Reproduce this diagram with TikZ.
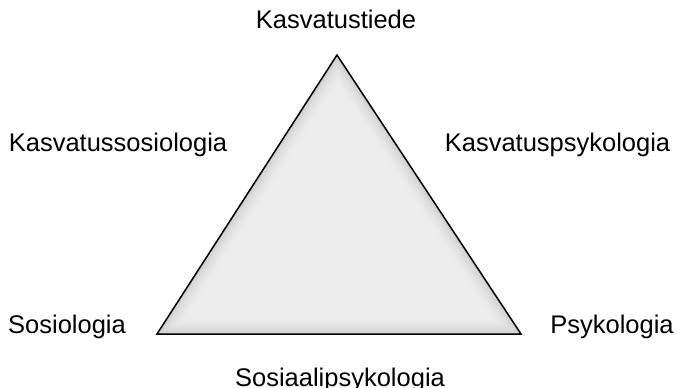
\documentclass[tikz,border=0pt]{standalone}
\usepackage{fontspec}
\setmainfont{Liberation Sans}
\usetikzlibrary{calc}
\begin{document}
\begin{tikzpicture}[x=1pt,y=-1pt,
  lbl/.style={anchor=base,inner sep=0pt,font=\fontsize{25.5}{30}\selectfont}]
\useasboundingbox (0,0) rectangle (677,388);
\coordinate (A) at (337,55);
\coordinate (B) at (157,334);
\coordinate (C) at (521,334);
\coordinate (I) at (338,235.4);
\foreach \d in {0,1,...,18}{
  \pgfmathsetmacro\s{1-\d/98.6}
  \pgfmathsetmacro\c{7+12*(1-\d/18)^2}
  \fill[black!\c] ($(I)!\s!(A)$) -- ($(I)!\s!(B)$) -- ($(I)!\s!(C)$) -- cycle;
}
\draw[line width=1.5pt,line join=miter] (A) -- (B) -- (C) -- cycle;
\node[lbl] (top) at (336,28) {Kasvatustiede};
\node[lbl] (ul) at (118,151.5) {Kasvatussosiologia};
\node[lbl] (ur) at (557.5,151.5) {Kasvatuspsykologia};
\node[lbl] (ll) at (67,333) {Sosiologia};
\node[lbl] (lr) at (612,333) {Psykologia};
\node[lbl] (bot) at (340,386) {Sosiaalipsykologia};
\end{tikzpicture}
\end{document}
